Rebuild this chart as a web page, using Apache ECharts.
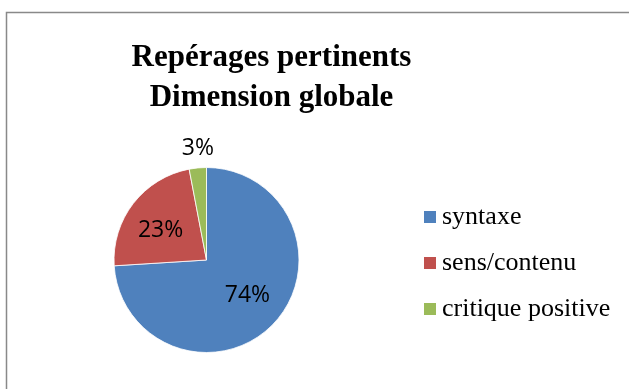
<!DOCTYPE html>
<html>
<head>
<meta charset="utf-8">
<style>
  html, body { margin: 0; padding: 0; background: #fff; }
  #chart { width: 629px; height: 389px; }
</style>
<script src="https://cdn.jsdelivr.net/npm/echarts@6/dist/echarts.min.js"></script>
</head>
<body>
<div id="chart"></div>
<script>
// Share of relevant observations, overall dimension (percent)
const categories = ['syntaxe', 'sens/contenu', 'critique positive'];
const values = [74, 23, 3];
const colors = ['#4F81BD', '#C0504D', '#9BBB59'];

// Nudges for the percentage labels, relative to the default inside spot
const labelNudges = [[5, 2], [-7, 1], [-4, -63]];

const chart = echarts.init(document.getElementById('chart'), null, { renderer: 'canvas' });

chart.setOption({
  animation: false,
  backgroundColor: '#ffffff',
  title: {
    text: 'Repérages pertinents\nDimension globale',
    left: 266.5,
    top: 33,
    textAlign: 'center',
    textStyle: {
      fontFamily: '"Liberation Serif", "Times New Roman", serif',
      fontWeight: 'bold',
      fontSize: 31,
      lineHeight: 40,
      color: '#000'
    }
  },
  legend: {
    orient: 'vertical',
    left: 417,
    top: 199,
    itemWidth: 14,
    itemHeight: 14,
    itemGap: 20,
    itemTextGap: 4,
    icon: 'rect',
    selectedMode: false,
    data: categories,
    textStyle: {
      fontFamily: '"Liberation Serif", "Times New Roman", serif',
      fontSize: 26,
      lineHeight: 26,
      color: '#000'
    }
  },
  graphic: [{
    type: 'rect',
    silent: true,
    shape: { x: 6.5, y: 12.5, width: 700, height: 500 },
    style: { fill: 'none', stroke: '#898989', lineWidth: 1.5 }
  }],
  series: [{
    type: 'pie',
    center: [206.5, 260],
    radius: [0, 92.5],
    startAngle: 90,
    clockwise: true,
    avoidLabelOverlap: false,
    itemStyle: { borderColor: '#ffffff', borderWidth: 0.8 },
    label: {
      show: true,
      position: 'inside',
      formatter: p => p.value + '%',
      fontFamily: '"Open Sans", "Liberation Sans", sans-serif',
      fontSize: 23,
      color: '#000'
    },
    labelLine: { show: false },
    emphasis: { disabled: true },
    labelLayout: params => ({
      dx: labelNudges[params.dataIndex][0],
      dy: labelNudges[params.dataIndex][1]
    }),
    data: categories.map((name, i) => ({
      name: name,
      value: values[i],
      itemStyle: { color: colors[i] }
    }))
  }]
});
</script>
</body>
</html>
